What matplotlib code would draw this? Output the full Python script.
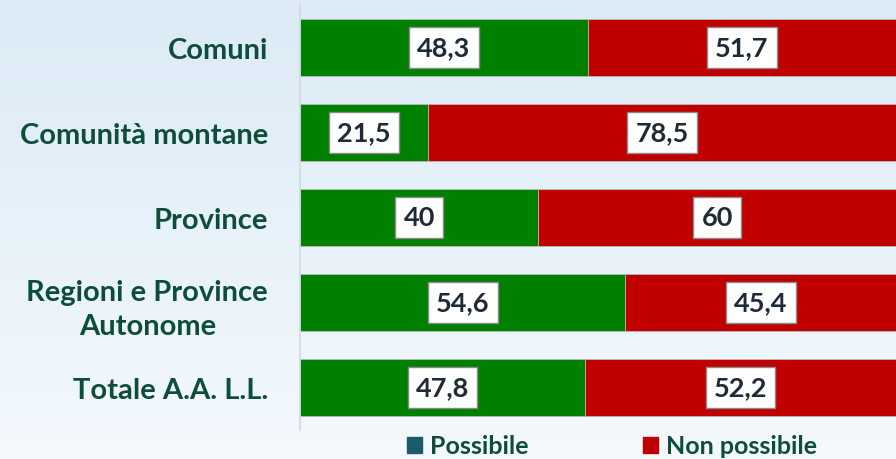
import numpy as np
import matplotlib.pyplot as plt
from matplotlib.patches import Patch

categories = ['Comuni', 'Comunità montane', 'Province', 'Regioni e Province\nAutonome', 'Totale A.A. L.L.']
possibile = [48.3, 21.5, 40, 54.6, 47.8]
non_possibile = [51.7, 78.5, 60, 45.4, 52.2]
labels_poss = ['48,3', '21,5', '40', '54,6', '47,8']
labels_non = ['51,7', '78,5', '60', '45,4', '52,2']

plt.rcParams['font.family'] = ['Lato', 'DejaVu Sans']

fig = plt.figure(figsize=(8.96, 4.6), dpi=100)

# background gradient, light blue at the top to almost white at the bottom
bg = fig.add_axes([0, 0, 1, 1], zorder=-10)
grad = np.linspace(0, 1, 256).reshape(-1, 1)
top = np.array([0.86, 0.92, 0.965])
bottom = np.array([0.955, 0.975, 0.99])
img = top + (bottom - top) * grad[:, :, None]
bg.imshow(img, aspect='auto', extent=[0, 1, 0, 1])
bg.axis('off')

ax = fig.add_axes([300 / 896, 1 - 431 / 460, 596 / 896, 425 / 460])
ax.patch.set_alpha(0)
y = np.arange(len(categories))
green = '#008000'
red = '#c00000'
ax.barh(y, possibile, height=0.67, color=green, edgecolor='#b8b8b8', linewidth=0.6)
ax.barh(y, non_possibile, left=possibile, height=0.67, color=red, edgecolor='#b8b8b8', linewidth=0.6)

box = dict(boxstyle='square,pad=0.3', facecolor='white', edgecolor='#8a8a8a', linewidth=1)
for i in range(len(categories)):
    ax.text(possibile[i] / 2, y[i], labels_poss[i], ha='center', va='center',
            fontsize=19.5, fontweight='bold', color='#1e2a38', bbox=box)
    ax.text(possibile[i] + non_possibile[i] / 2, y[i], labels_non[i], ha='center', va='center',
            fontsize=19.5, fontweight='bold', color='#1e2a38', bbox=box)

ax.set_xlim(0, 100)
ax.set_ylim(len(categories) - 0.5, -0.5)
ax.set_yticks(y)
ax.set_yticklabels(categories, fontsize=21, fontweight='bold', color='#0e4d3c', linespacing=1.4)
for t in ax.get_yticklabels():
    t.set_multialignment('center')
ax.tick_params(axis='y', length=0, pad=23)
ax.set_xticks([])
for s in ['top', 'right', 'bottom']:
    ax.spines[s].set_visible(False)
ax.spines['left'].set_color('#d2d9e0')
ax.spines['left'].set_linewidth(1.2)

handles = [Patch(color='#1f5a6a', label='Possibile'), Patch(color=red, label='Non possibile')]
leg = fig.legend(handles=handles, loc='center', bbox_to_anchor=(612 / 896, 1 - 447 / 460), ncol=2,
                 frameon=False, handlelength=0.6, handleheight=0.6, handletextpad=0.3,
                 columnspacing=4.6, borderpad=0.1, prop={'size': 18, 'weight': 'bold'})
for t in leg.get_texts():
    t.set_color('#0e4d3c')

fig.savefig('out.png', dpi=100)
